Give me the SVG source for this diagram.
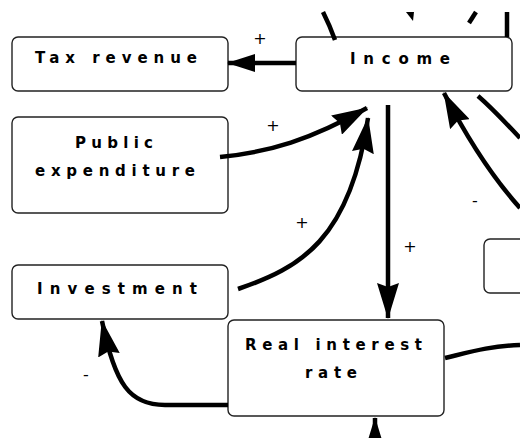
<svg xmlns="http://www.w3.org/2000/svg" width="520" height="438" viewBox="0 0 520 438">
<style>
.box{fill:#fff;stroke:#222;stroke-width:1.4}
.lbl{font-family:"DejaVu Sans","Liberation Sans",sans-serif;font-weight:bold;font-size:15px;fill:#000}
.sign{font-family:"DejaVu Sans","Liberation Sans",sans-serif;font-size:16px;fill:#000}
.c{fill:none;stroke:#000;stroke-width:4.5}
</style>
<defs>
<marker id="ah" viewBox="0 0 36 22" refX="35" refY="11" markerWidth="36" markerHeight="22" markerUnits="userSpaceOnUse" orient="auto">
<path d="M0,0 L36,11 L0,22 L4,11 z" fill="#000"/>
</marker>
<marker id="ahs" viewBox="0 0 28 18" refX="27" refY="9" markerWidth="28" markerHeight="18" markerUnits="userSpaceOnUse" orient="auto">
<path d="M0,0 L28,9 L0,18 z" fill="#000"/>
</marker>
</defs>
<g id="tax-revenue">
<rect class="box" x="12" y="37" width="216" height="54" rx="6"/>
<text class="lbl" x="35" y="63" textLength="162" lengthAdjust="spacing">Tax revenue</text>
</g>
<g id="public-expenditure">
<rect class="box" x="12" y="117" width="216" height="96" rx="6"/>
<text class="lbl" x="75" y="148" textLength="78" lengthAdjust="spacing">Public</text>
<text class="lbl" x="35" y="176" textLength="160" lengthAdjust="spacing">expenditure</text>
</g>
<g id="income">
<rect class="box" x="296" y="37" width="216" height="54" rx="6"/>
<text class="lbl" x="350" y="64" textLength="100" lengthAdjust="spacing">Income</text>
</g>
<g id="investment">
<rect class="box" x="12" y="265" width="216" height="54" rx="6"/>
<text class="lbl" x="37" y="294" textLength="160" lengthAdjust="spacing">Investment</text>
</g>
<g id="real-interest-rate">
<rect class="box" x="228" y="320" width="216" height="96" rx="6"/>
<text class="lbl" x="245" y="350" textLength="177" lengthAdjust="spacing">Real interest</text>
<text class="lbl" x="305" y="378" textLength="52" lengthAdjust="spacing">rate</text>
</g>
<g id="partial-node">
<rect class="box" x="484" y="239" width="80" height="54" rx="6"/>
</g>
<g id="connectors">
<path class="c" d="M296,63 L228,63" marker-end="url(#ahs)"/>
<path class="c" d="M220,157 C270,152 310,140 367,108" marker-end="url(#ah)"/>
<path class="c" d="M238,289 C300,268 350,240 368,118" marker-end="url(#ah)"/>
<path class="c" d="M388,105 L388,318" marker-end="url(#ah)"/>
<path class="c" d="M228,405 L165,405 C130,405 115,385 102,321" marker-end="url(#ah)"/>
<path class="c" d="M520,208 C495,180 468,140 444,93" marker-end="url(#ah)"/>
<path class="c" d="M478,96 C492,108 505,122 520,138"/>
<path class="c" d="M445,358 C470,352 490,346 520,345"/>
<path class="c" d="M375,452 L375,418" marker-end="url(#ah)"/>
<path class="c" d="M323,12 Q330,26 335,40"/>
<polygon points="406,12 414,12 413,21" fill="#000"/>
<path class="c" d="M476,12 L469,23"/>
<path class="c" d="M507,12 L507,37"/>
<text class="sign" x="260" y="44" text-anchor="middle">+</text>
<text class="sign" x="273" y="131" text-anchor="middle">+</text>
<text class="sign" x="302" y="228" text-anchor="middle">+</text>
<text class="sign" x="410" y="252" text-anchor="middle">+</text>
<text class="sign" x="475" y="206" text-anchor="middle">-</text>
<text class="sign" x="86" y="380" text-anchor="middle">-</text>
</g>
</svg>
